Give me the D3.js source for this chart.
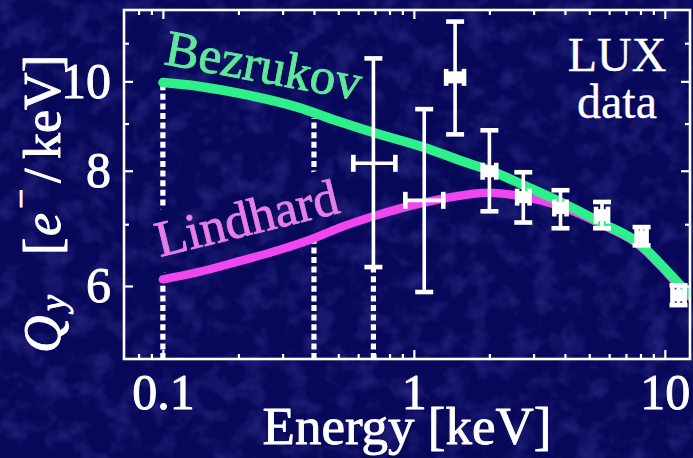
<!DOCTYPE html>
<html>
<head>
<meta charset="utf-8">
<script src="https://cdn.jsdelivr.net/npm/d3@7"></script>
<style>
  html, body { margin: 0; padding: 0; background: #08085a; }
  svg { display: block; }
</style>
</head>
<body>
<svg id="chart" width="693" height="458"></svg>
<script>
// ---- Charge yield Qy vs nuclear recoil energy ----

// Bezrukov model curve (keV, e-/keV)
const bezE = [0.1, 0.138, 0.219, 0.346, 0.5, 0.69, 1.1, 1.65, 2.0, 2.73, 3.84, 5.62, 8.08, 9.44, 11.34, 12.6];
const bezQ = [9.97, 9.88, 9.66, 9.37, 9.05, 8.80, 8.48, 8.15, 8.01, 7.72, 7.40, 7.02, 6.64, 6.37, 6.04, 5.86];

// Lindhard model curve
const linE = [0.1, 0.138, 0.2, 0.288, 0.4, 0.5, 0.69, 1.1, 1.65, 2.0, 2.73, 3.84, 5.62, 8.08, 9.44, 11.34, 12.6];
const linQ = [6.10, 6.21, 6.38, 6.56, 6.76, 6.93, 7.14, 7.39, 7.54, 7.57, 7.50, 7.32, 6.99, 6.61, 6.34, 6.01, 5.84];

// LUX measurements with energy and Qy uncertainties
const luxE    = [0.69, 1.10, 1.46, 2.0, 2.73, 3.84, 5.62, 8.08, 11.34];
const luxElo  = [0.574, 0.925, 1.345, 1.88, 2.58, 3.63, 5.32, 7.72, 10.73];
const luxEhi  = [0.844, 1.31, 1.585, 2.13, 2.89, 4.06, 5.94, 8.46, 11.99];
const luxQ    = [8.15, 7.43, 10.10, 7.99, 7.49, 7.29, 7.16, 6.79, 5.86];
const luxQlo  = [6.29, 5.91, 8.76, 7.23, 7.03, 6.93, 6.93, 6.64, 5.72];
const luxQhi  = [10.59, 9.33, 11.61, 8.85, 7.97, 7.62, 7.40, 6.95, 6.01];

// Threshold guide lines (energy, top of the dotted line in Qy)
const guideE   = [0.1, 0.4, 0.69];
const guideTop = [9.90, 9.12, 6.29];

// Axis ticks
const xMajor = [0.1, 1, 10];
const xMajorLabels = ["0.1", "1", "10"];
const xMinor = [0.08, 0.09, 0.2, 0.3, 0.4, 0.5, 0.6, 0.7, 0.8, 0.9, 2, 3, 4, 5, 6, 7, 8, 9];
const yMajor = [6, 8, 10];
const yMinor = [7, 9, 11];

const svg = d3.select("#chart");
const W = 693, H = 458;
const plot = { left: 124, right: 690, top: 10, bottom: 359 };

const x = d3.scaleLog().domain([0.07, 12.6]).range([plot.left, plot.right]);
const y = d3.scaleLog().domain([5, 11.95]).range([plot.bottom, plot.top]);

const SERIF = "'Liberation Serif', 'Times New Roman', serif";
const defs = svg.append("defs");

// text in a heavy-ish roman: regular face thickened by a matching outline
function roman(sel, size, color) {
  return sel.attr("font-family", SERIF).attr("font-size", size)
    .attr("fill", color).attr("stroke", color).attr("stroke-width", 0.9)
    .attr("stroke-linejoin", "round");
}

// mottled dark-blue backdrop
const grain = defs.append("filter").attr("id", "grain")
  .attr("x", 0).attr("y", 0).attr("width", "100%").attr("height", "100%");
grain.append("feTurbulence").attr("type", "fractalNoise")
  .attr("baseFrequency", 0.045).attr("numOctaves", 3).attr("seed", 11);
grain.append("feColorMatrix").attr("type", "matrix")
  .attr("values", "0 0 0 0 0.08  0 0 0 0 0.08  0 0 0 0 0.47  0.8 0 0 0 -0.36");

svg.append("rect").attr("width", W).attr("height", H).attr("fill", "#08085a");
svg.append("rect").attr("width", W).attr("height", H).attr("filter", "url(#grain)");

defs.append("clipPath").attr("id", "plotClip")
  .append("rect").attr("x", plot.left).attr("y", plot.top)
  .attr("width", plot.right - plot.left).attr("height", plot.bottom - plot.top);

// ---- Lindhard label sits on an opaque box that interrupts the guide lines ----
const linLabelPos = { x: 160, y: 257, angle: -13.8 };
const measure = svg.append("text").attr("font-family", SERIF)
  .attr("font-size", 51).attr("opacity", 0).text("Lindhard");
const linW = measure.node().getComputedTextLength();
measure.remove();

const gapMask = defs.append("mask").attr("id", "labelGap").attr("maskUnits", "userSpaceOnUse")
  .attr("x", 0).attr("y", 0).attr("width", W).attr("height", H);
gapMask.append("rect").attr("width", W).attr("height", H).attr("fill", "white");
gapMask.append("rect")
  .attr("transform", `translate(${linLabelPos.x},${linLabelPos.y}) rotate(${linLabelPos.angle})`)
  .attr("x", -6).attr("y", -46).attr("width", linW + 12).attr("height", 62)
  .attr("fill", "black");

// ---- dotted threshold guides ----
svg.append("g").attr("mask", "url(#labelGap)")
  .selectAll("line").data(guideE).join("line")
  .attr("x1", d => x(d)).attr("x2", d => x(d))
  .attr("y1", y(5)).attr("y2", (d, i) => y(guideTop[i]))
  .attr("stroke", "white").attr("stroke-width", 5.2)
  .attr("stroke-dasharray", "6,3.6");

// ---- model curves ----
const line = d3.line().x(d => x(d[0])).y(d => y(d[1])).curve(d3.curveMonotoneX);
const curves = svg.append("g").attr("clip-path", "url(#plotClip)");
curves.append("path").datum(d3.zip(linE, linQ)).attr("d", line)
  .attr("fill", "none").attr("stroke", "#f046f0").attr("stroke-width", 8.5)
  .attr("stroke-linecap", "round");
curves.append("path").datum(d3.zip(bezE, bezQ)).attr("d", line)
  .attr("fill", "none").attr("stroke", "#2ef08a").attr("stroke-width", 9.5)
  .attr("stroke-linecap", "round");

// ---- curve labels ----
roman(svg.append("text"), 51, "#5fe89c")
  .attr("transform", "translate(163,64) rotate(10.5)").text("Bezrukov");
roman(svg.append("text"), 51, "#e47fe6")
  .attr("transform", `translate(${linLabelPos.x},${linLabelPos.y}) rotate(${linLabelPos.angle})`)
  .text("Lindhard");

// ---- LUX error bars ----
const pts = luxE.map((e, i) => ({ e, q: luxQ[i], elo: luxElo[i], ehi: luxEhi[i], qlo: luxQlo[i], qhi: luxQhi[i] }));
const eb = svg.append("g").attr("stroke", "white").attr("fill", "none");
const capW = 9, capH = 8.5;
pts.forEach(p => {
  const cx = x(p.e), cy = y(p.q);
  const x0 = x(p.elo), x1 = x(p.ehi);
  const g = eb.append("g");
  g.append("line").attr("x1", cx).attr("x2", cx).attr("y1", y(p.qlo)).attr("y2", y(p.qhi)).attr("stroke-width", 3.6);
  g.append("line").attr("x1", cx - capW).attr("x2", cx + capW).attr("y1", y(p.qlo)).attr("y2", y(p.qlo)).attr("stroke-width", 4.6);
  g.append("line").attr("x1", cx - capW).attr("x2", cx + capW).attr("y1", y(p.qhi)).attr("y2", y(p.qhi)).attr("stroke-width", 4.6);
  g.append("line").attr("x1", x0).attr("x2", x1).attr("y1", cy).attr("y2", cy).attr("stroke-width", 3.6);
  g.append("line").attr("x1", x0).attr("x2", x0).attr("y1", cy - capH).attr("y2", cy + capH).attr("stroke-width", 4.6);
  g.append("line").attr("x1", x1).attr("x2", x1).attr("y1", cy - capH).attr("y2", cy + capH).attr("stroke-width", 4.6);
  // narrow energy bins merge with their caps into a solid block
  if (x1 - x0 < 26) {
    g.append("rect").attr("x", x0).attr("y", cy - 6).attr("width", x1 - x0).attr("height", 12)
      .attr("fill", "white").attr("stroke", "none");
  }
});

// ---- axes (inward ticks on all four sides) ----
function styleAxis(g) {
  g.select(".domain").remove();
  g.selectAll(".tick line").attr("stroke", "white").attr("stroke-width", 2.2);
  roman(g.selectAll(".tick text"), 50, "white");
}
const none = () => "";
svg.append("g").attr("transform", `translate(0,${plot.bottom})`)
  .call(d3.axisBottom(x).tickValues(xMajor).tickSize(-9).tickPadding(14)
    .tickFormat((d, i) => xMajorLabels[i])).call(styleAxis);
svg.append("g").attr("transform", `translate(0,${plot.bottom})`)
  .call(d3.axisBottom(x).tickValues(xMinor).tickSize(-5).tickFormat(none)).call(styleAxis);
svg.append("g").attr("transform", `translate(0,${plot.top})`)
  .call(d3.axisTop(x).tickValues(xMajor).tickSize(-9).tickFormat(none)).call(styleAxis);
svg.append("g").attr("transform", `translate(0,${plot.top})`)
  .call(d3.axisTop(x).tickValues(xMinor).tickSize(-5).tickFormat(none)).call(styleAxis);

svg.append("g").attr("transform", `translate(${plot.left},0)`)
  .call(d3.axisLeft(y).tickValues(yMajor).tickSize(-9).tickPadding(13)
    .tickFormat(d3.format("d"))).call(styleAxis);
svg.append("g").attr("transform", `translate(${plot.left},0)`)
  .call(d3.axisLeft(y).tickValues(yMinor).tickSize(-5).tickFormat(none)).call(styleAxis);
svg.append("g").attr("transform", `translate(${plot.right},0)`)
  .call(d3.axisRight(y).tickValues(yMajor).tickSize(-9).tickFormat(none)).call(styleAxis);
svg.append("g").attr("transform", `translate(${plot.right},0)`)
  .call(d3.axisRight(y).tickValues(yMinor).tickSize(-5).tickFormat(none)).call(styleAxis);

// frame
svg.append("rect").attr("x", plot.left).attr("y", plot.top)
  .attr("width", plot.right - plot.left).attr("height", plot.bottom - plot.top)
  .attr("fill", "none").attr("stroke", "white").attr("stroke-width", 2.6);

// ---- axis titles ----
roman(svg.append("text"), 53, "white")
  .attr("x", (plot.left + plot.right) / 2).attr("y", 444)
  .attr("text-anchor", "middle").text("Energy [keV]");

const yt = roman(svg.append("text"), 52, "white").attr("transform", "translate(60,353) rotate(-90)");
yt.append("tspan").attr("x", 0).attr("font-style", "italic").text("Q");
yt.append("tspan").attr("x", 42).attr("dy", 5).attr("font-style", "italic").attr("font-size", 36).text("y");
yt.append("tspan").attr("x", 98).attr("dy", -5).text("[");
yt.append("tspan").attr("x", 117).attr("font-style", "italic").text("e");
yt.append("tspan").attr("x", 144).attr("dy", -27).attr("font-size", 36).text("\u2212");
yt.append("tspan").attr("x", 170).attr("dy", 27).text("/");
yt.append("tspan").attr("x", 194).text("keV]");

// ---- dataset tag ----
roman(svg.append("text"), 48, "white").attr("stroke-width", 0.3)
  .attr("x", 617).attr("y", 71).attr("text-anchor", "middle").text("LUX");
roman(svg.append("text"), 48, "white").attr("stroke-width", 0.3)
  .attr("x", 617).attr("y", 118).attr("text-anchor", "middle").text("data");
</script>
</body>
</html>
